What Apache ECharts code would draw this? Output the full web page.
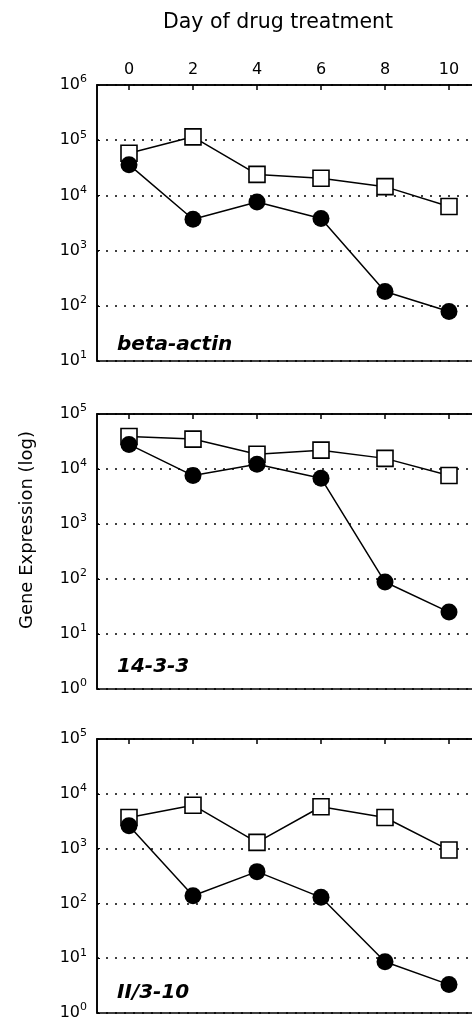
<!DOCTYPE html>
<html>
<head>
<meta charset="utf-8">
<script src="https://cdn.jsdelivr.net/npm/echarts@6/dist/echarts.min.js"></script>
<style>
html,body{margin:0;padding:0;background:#fff;}
#chart{width:472px;height:1019px;}
</style>
</head>
<body>
<div id="chart"></div>
<script>
// ---- data ----
var days = [0, 2, 4, 6, 8, 10];
var xTickLabels = [0, 2, 4, 6, 8, 10];
var geneNames = ['beta-actin', '14-3-3', 'II/3-10'];
var betaActinOpen   = [58000, 115000, 24000, 20500, 14400, 6300];
var betaActinFilled = [36000, 3700, 7600, 3800, 182, 79];
var p1433Open       = [39000, 35000, 18500, 22000, 15600, 7600];
var p1433Filled     = [28000, 7600, 12200, 6800, 88, 25];
var il310Open       = [3700, 6200, 1300, 5800, 3700, 940];
var il310Filled     = [2600, 138, 380, 129, 8.6, 3.3];
var yMins = [10, 1, 1];
var yMaxs = [1e6, 1e5, 1e5];
var xTitle = 'Day of drug treatment';
var yTitle = 'Gene Expression (log)';

var FONT = 'DejaVu Sans';
var chart = echarts.init(document.getElementById('chart'), null, {renderer: 'canvas'});

function pairs(vals) { return days.map(function (d, i) { return [d, vals[i]]; }); }

var grids = [
  {left: 97, right: -9, top: 85, height: 276},
  {left: 97, right: -9, top: 414, height: 275},
  {left: 97, right: -9, top: 739, height: 274}
].map(function (g) {
  return Object.assign({show: true, outerBoundsMode: 'none', containLabel: false,
    borderColor: '#000', borderWidth: 1.6, backgroundColor: 'transparent'}, g);
});

var xAxes = [0, 1, 2].map(function (i) {
  return {
    type: 'value', gridIndex: i, position: 'top', min: -1, max: 11,
    axisLine: {show: true, onZero: false, lineStyle: {color: '#000', width: 1.6}},
    axisTick: {show: true, inside: true, length: 5, customValues: xTickLabels, lineStyle: {color: '#000', width: 1.5}},
    axisLabel: {show: i === 0, customValues: xTickLabels, margin: 7, fontFamily: FONT, fontSize: 16, color: '#000'},
    splitLine: {show: false}
  };
});

var yAxes = [0, 1, 2].map(function (i) {
  return {
    type: 'log', logBase: 10, gridIndex: i, min: yMins[i], max: yMaxs[i],
    axisLine: {show: true, onZero: false, lineStyle: {color: '#000', width: 1.6}},
    axisTick: {show: true, inside: true, length: 3, lineStyle: {color: '#000', width: 1}},
    axisLabel: {
      margin: 10, color: '#000',
      formatter: function (v) { return '{b|10}{e|' + Math.round(Math.log10(v)) + '}'; },
      rich: {
        b: {fontFamily: FONT, fontSize: 16, lineHeight: 22, color: '#000'},
        e: {fontFamily: FONT, fontSize: 11, lineHeight: 11, verticalAlign: 'top', color: '#000'}
      }
    },
    splitLine: {show: true, lineStyle: {color: '#000', width: 1.5, type: [2, 7]}}
  };
});

var openSets = [betaActinOpen, p1433Open, il310Open];
var filledSets = [betaActinFilled, p1433Filled, il310Filled];
var series = [];
[0, 1, 2].forEach(function (i) {
  series.push({
    type: 'line', xAxisIndex: i, yAxisIndex: i, data: pairs(openSets[i]),
    symbol: 'rect', symbolSize: 16, showAllSymbol: true,
    lineStyle: {color: '#000', width: 1.5},
    itemStyle: {color: '#fff', borderColor: '#000', borderWidth: 1.6},
    z: 3, animation: false
  });
  series.push({
    type: 'line', xAxisIndex: i, yAxisIndex: i, data: pairs(filledSets[i]),
    symbol: 'circle', symbolSize: 17, showAllSymbol: true,
    lineStyle: {color: '#000', width: 1.5},
    itemStyle: {color: '#000', borderColor: '#000', borderWidth: 0},
    z: 4, animation: false
  });
});

var labelYs = [345, 667, 993];
var graphics = [
  {type: 'text', left: 280 - 117, top: 12, style: {text: xTitle, fontFamily: FONT, fontSize: 20.5, fill: '#000'}},
  {type: 'text', x: 27, y: 530, rotation: Math.PI / 2,
   style: {text: yTitle, fontFamily: FONT, fontSize: 18, fill: '#000', align: 'center', verticalAlign: 'middle'}}
];
geneNames.forEach(function (n, i) {
  graphics.push({type: 'text', x: 117, y: labelYs[i],
    style: {text: n, fontFamily: FONT, fontSize: 20, fontWeight: 'bold', fontStyle: 'italic', fill: '#000', verticalAlign: 'middle'}});
});

chart.setOption({
  backgroundColor: '#fff',
  animation: false,
  grid: grids,
  xAxis: xAxes,
  yAxis: yAxes,
  series: series,
  graphic: graphics
});
</script>
</body>
</html>
